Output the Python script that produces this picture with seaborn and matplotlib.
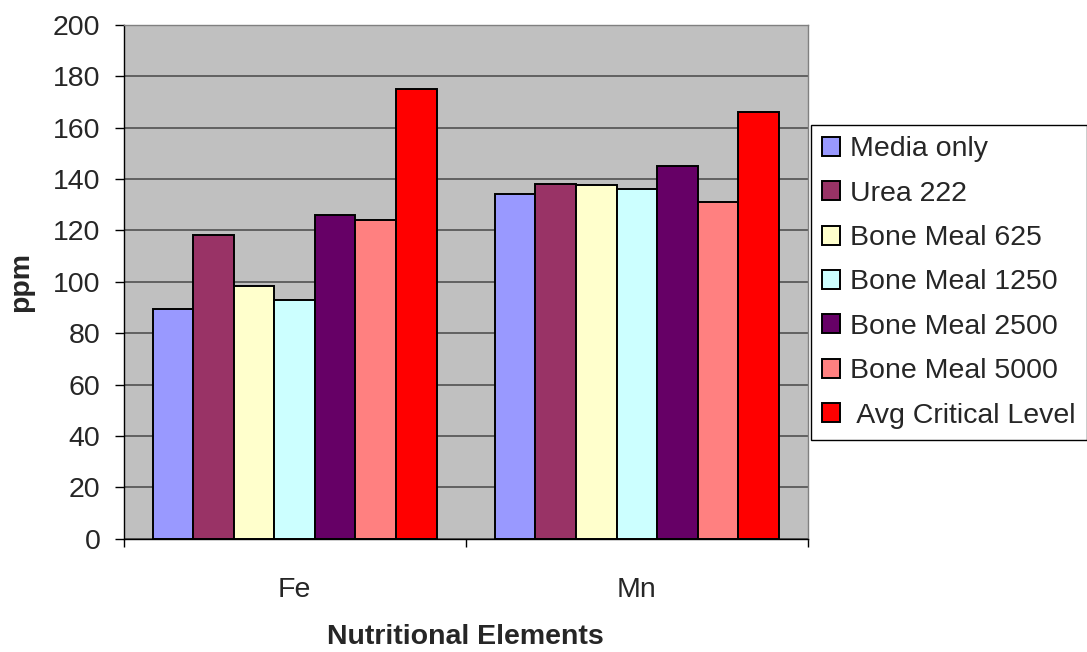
import matplotlib
matplotlib.use('Agg')
import matplotlib.pyplot as plt
import seaborn as sns
import pandas as pd

# 数据
elements = ['Fe', 'Mn']
treatments = ['Media only', 'Urea 222', 'Bone Meal 625', 'Bone Meal 1250',
              'Bone Meal 2500', 'Bone Meal 5000', ' Avg Critical Level']
fe_vals = [89.5, 118, 98.5, 93, 126, 124, 175]
mn_vals = [134, 138, 137.5, 136, 145, 131, 166]
colors = ['#9999FF', '#993366', '#FFFFCC', '#CCFFFF', '#660066', '#FF8080', '#FF0000']

rows = []
for i, t in enumerate(treatments):
    rows.append({'element': 'Fe', 'treatment': t, 'ppm': fe_vals[i]})
    rows.append({'element': 'Mn', 'treatment': t, 'ppm': mn_vals[i]})
df = pd.DataFrame(rows)

sns.set_style('white')
plt.rcParams['font.family'] = ['Liberation Sans', 'DejaVu Sans']
fs = 20.5

fig = plt.figure(figsize=(10.87, 6.52), dpi=100)
ax = fig.add_axes([123.5/1087, 1-538.7/652, (808-123.5)/1087, (538.7-24.7)/652])
ax.set_facecolor('#C0C0C0')

sns.barplot(data=df, x='element', y='ppm', hue='treatment', hue_order=treatments,
            order=elements, palette=colors, width=0.83, gap=0,
            edgecolor='black', linewidth=1.4, saturation=1, ax=ax, legend=True)

ax.set_ylim(0, 200)
ax.set_xlim(-0.5, 1.5)
ax.set_yticks(range(0, 201, 20))
ax.yaxis.grid(True, color='#5A5A5A', linewidth=1.3)
ax.set_axisbelow(True)

for s in ['top', 'right']:
    ax.spines[s].set_color('#808080')
    ax.spines[s].set_linewidth(1)
for s in ['left', 'bottom']:
    ax.spines[s].set_color('black')
    ax.spines[s].set_linewidth(1)

ax.tick_params(axis='y', direction='out', length=6.5, width=1, color='black',
               labelsize=fs, pad=10, left=True)
ax.set_xticks([-0.5, 0.5, 1.5], minor=True)
ax.tick_params(axis='x', which='minor', direction='out', length=6, width=1,
               color='black', bottom=True)
ax.tick_params(axis='x', which='major', length=0, labelsize=fs, pad=27.3)

ax.set_xlabel('Nutritional Elements', fontsize=fs, fontweight='bold', labelpad=15.5)
ax.set_ylabel('ppm', fontsize=fs, fontweight='bold', labelpad=13.6)

handles, labels = ax.get_legend_handles_labels()
ax.get_legend().remove()
leg = fig.legend(handles, labels, loc='upper left',
                 bbox_to_anchor=(810.5/1087, 1-125/652), fontsize=fs,
                 frameon=True, fancybox=False, framealpha=1,
                 edgecolor='black', borderaxespad=0,
                 handlelength=0.65, handleheight=0.65, handletextpad=0.35,
                 labelspacing=0.645, borderpad=0.4)
leg.get_frame().set_linewidth(1)

fig.savefig('out.png', dpi=100)
